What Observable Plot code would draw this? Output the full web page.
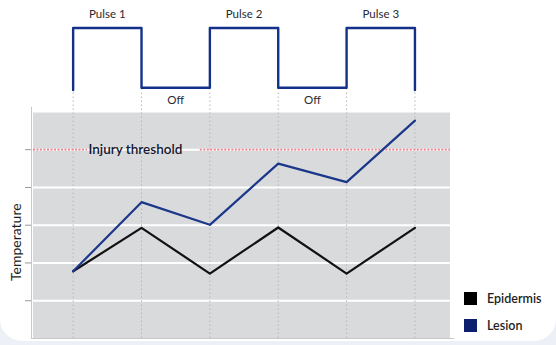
<!DOCTYPE html>
<html>
<head>
<meta charset="utf-8">
<script src="https://cdn.jsdelivr.net/npm/d3@7"></script>
<script src="https://cdn.jsdelivr.net/npm/@observablehq/plot@0.6"></script>
<style>
  html, body { margin: 0; padding: 0; background: #eef0f8; }
  #card { position: relative; width: 556px; height: 341px; background: #fff; border-radius: 0 0 22px 22px; overflow: hidden; }
  #legend { position: absolute; left: 464px; top: 292px; font-family: Lato, "Open Sans", sans-serif; font-size: 12.5px; font-weight: 600; color: #1e1e24; }
  .item { display: flex; align-items: center; height: 13px; margin-bottom: 14px; }
  .sw { width: 13px; height: 13px; margin-right: 10px; }
</style>
</head>
<body>
<div id="card">
  <div id="chart"></div>
  <div id="legend"></div>
</div>
<script>
// Time steps (pulse boundaries)
const steps = [0, 1, 2, 3, 4, 5];
// Temperature values
const epidermis = [1.78, 2.93, 1.72, 2.94, 1.72, 2.93];
const lesion = [1.78, 3.61, 3.01, 4.63, 4.14, 5.77];
const gridValues = [1, 2, 3, 4];
const tickValues = [1, 2, 3, 4, 5];
const threshold = 5;
const thresholdLabel = "Injury threshold";
const thresholdGap = [0.21, 1.86];
// Pulse schedule (on/off)
const pulseState = [1, 0, 1, 0, 1];
const pulseLabels = ["Pulse 1", "Off", "Pulse 2", "Off", "Pulse 3"];
const pulseHigh = 8.22, pulseLow = 6.64, pulseEnd = 6.58;
const seriesNames = ["Epidermis", "Lesion"];
const seriesColors = ["#111111", "#1b378a"];

const xDomain = [-0.58, 5.52];
const plotTop = 5.97;

const epiData = steps.map((s, i) => ({x: s, y: epidermis[i]}));
const lesData = steps.map((s, i) => ({x: s, y: lesion[i]}));

// square wave
const pulsePts = [{x: steps[0], y: pulseEnd}];
pulseState.forEach((st, i) => {
  const lv = st ? pulseHigh : pulseLow;
  pulsePts.push({x: steps[i], y: lv});
  pulsePts.push({x: steps[i + 1], y: lv});
});
pulsePts.push({x: steps[steps.length - 1], y: pulseEnd});

const labelData = pulseLabels.map((t, i) => ({
  x: (steps[i] + steps[i + 1]) / 2,
  y: pulseState[i] ? 8.58 : 6.30,
  t
}));

const font = "Lato, 'Open Sans', sans-serif";

const chart = Plot.plot({
  width: 556,
  height: 341,
  marginLeft: 33,
  marginRight: 106,
  marginTop: 0,
  marginBottom: 3,
  x: {domain: xDomain, axis: null},
  y: {domain: [0, 8.95], axis: null},
  style: {fontFamily: font, background: "transparent"},
  marks: [
    Plot.rect([0], {x1: xDomain[0], x2: xDomain[1], y1: 0, y2: plotTop, fill: "#d9dadc"}),
    Plot.ruleY(gridValues.concat([threshold]), {x1: xDomain[0], x2: xDomain[1], stroke: "#ffffff", strokeWidth: 2}),
    Plot.ruleX(steps, {y1: 0, y2: pulseEnd, stroke: "#b8b8bc", strokeWidth: 1, strokeDasharray: "1.5,2.5"}),
    Plot.ruleY([threshold], {x1: xDomain[0], x2: thresholdGap[0], stroke: "#f07d8a", strokeWidth: 1.6, strokeDasharray: "2,1.5"}),
    Plot.ruleY([threshold], {x1: thresholdGap[1], x2: xDomain[1], stroke: "#f07d8a", strokeWidth: 1.6, strokeDasharray: "2,1.5"}),
    Plot.text([thresholdLabel], {x: thresholdGap[0], y: threshold, text: d => d, textAnchor: "start", dx: 1, fontSize: 13.5, fontWeight: 600, fill: "#121830", fontFamily: font}),
    Plot.ruleX([xDomain[0]], {y1: 0, y2: plotTop + 0.15, stroke: "#c8c8cc", strokeWidth: 1, dx: -2}),
    Plot.ruleY([0], {x1: xDomain[0] - 0.03, x2: xDomain[1] + 0.06, stroke: "#c8c8cc", strokeWidth: 1}),
    Plot.axisY(tickValues, {anchor: "left", tickSize: 6, tickFormat: () => "", stroke: "#999", dx: -2, label: null}),
    Plot.text([{t: "Temperature", v: 2.55}], {text: "t", y: "v", frameAnchor: "left", textAnchor: "middle", dx: -17, rotate: -90, fontSize: 14, fill: "#1e1e24", fontFamily: font}),
    Plot.line(epiData, {x: "x", y: "y", stroke: seriesColors[0], strokeWidth: 2.2}),
    Plot.line(lesData, {x: "x", y: "y", stroke: seriesColors[1], strokeWidth: 2.2}),
    Plot.line(pulsePts, {x: "x", y: "y", stroke: "#14318a", strokeWidth: 2.4, curve: "linear"}),
    Plot.text(labelData, {x: "x", y: "y", text: "t", fontSize: 11.5, fill: "#2a2a30", fontFamily: font})
  ]
});
document.getElementById("chart").appendChild(chart);

const legend = document.getElementById("legend");
seriesNames.forEach((n, i) => {
  const it = document.createElement("div");
  it.className = "item";
  const sw = document.createElement("div");
  sw.className = "sw";
  sw.style.background = i === 0 ? "#000" : "#0b1f6e";
  it.appendChild(sw);
  const tx = document.createElement("span");
  tx.textContent = n;
  it.appendChild(tx);
  legend.appendChild(it);
});
</script>
</body>
</html>
